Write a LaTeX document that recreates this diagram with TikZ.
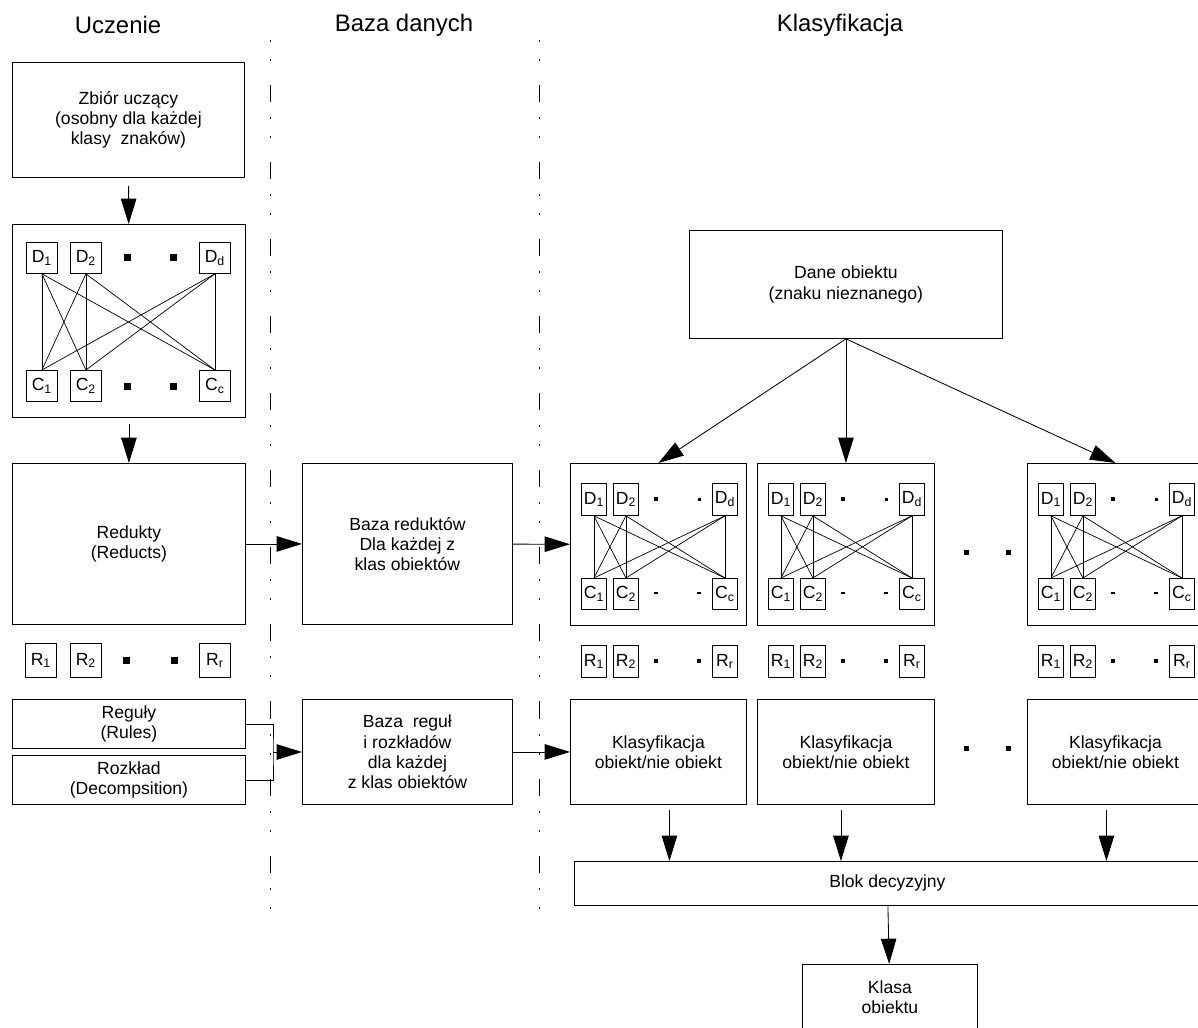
\documentclass[tikz,border=0pt]{standalone}
\usepackage{fontspec}
\setmainfont{Liberation Sans}
\usetikzlibrary{arrows.meta,positioning}

\begin{document}
\begin{tikzpicture}[
		x=0.025cm, y=-0.025cm,
		font=\fontsize{12.5}{14.4}\selectfont,
		sz/.style 2 args={minimum width=#1*0.025cm, minimum height=#2*0.025cm},
		block/.style={draw, line width=0.6pt, anchor=north west, align=center, inner sep=0pt},
		cell/.style={draw, line width=0.6pt, anchor=north west, inner sep=0pt},
		sq/.style={fill, inner sep=0pt, minimum size=#1*0.025cm},
		bar/.style={fill, inner sep=0pt, minimum width=0.1cm, minimum height=0.06cm},
		title/.style={font=\fontsize{17}{20}\selectfont},
		arr/.style={-{Triangle[length=18pt,width=11pt]}, line width=0.6pt},
		sep/.style={line width=0.6pt, dash pattern=on 12.1pt off 10.7pt on 1.4pt off 12.1pt on 1.4pt off 17.1pt, dash phase=22.8pt},
	]
		\useasboundingbox (0,0) rectangle (1198,1027);

		% column titles and separators
		\node[title] (tu) at (118,25) {Uczenie};
		\node[title] (tb) at (404,25) {Baza danych};
		\node[title] (tk) at (840,25) {Klasyfikacja};
		\draw[sep] (270,40) -- (270,910);
		\draw[sep] (539,40) -- (539,910);

		% learning
		\node[block, sz={232}{115}] (zbior) at (12,62) {Zbiór uczący\\(osobny dla każdej\\klasy \ znaków)};
		\node[block, sz={233}{193}] (g0) at (12,224) {};
		\node[cell, sz={31}{31}] (d1) at (26,242) {D\textsubscript{1}};
		\node[cell, sz={31}{31}] (d2) at (70,242) {D\textsubscript{2}};
		\node[cell, sz={31}{31}] (dd) at (199,242) {D\textsubscript{d}};
		\node[cell, sz={31}{31}] (c1) at (26,370) {C\textsubscript{1}};
		\node[cell, sz={31}{31}] (c2) at (70,370) {C\textsubscript{2}};
		\node[cell, sz={31}{31}] (cc) at (199,370) {C\textsubscript{c}};
		\node[sq=7] (dp1) at (127,257) {};
		\node[sq=7] (dp2) at (173,257) {};
		\node[sq=7] (cp1) at (127,386) {};
		\node[sq=7] (cp2) at (173,386) {};
		\foreach \i in {1,2,d}
			\foreach \j in {1,2,c}
				\draw[line width=0.5pt] (d\i.south) -- (c\j.north);

		\node[block, sz={233}{161}] (redukty) at (12,463) {Redukty\\(Reducts)};
		\node[cell, sz={31}{34}] (r1) at (25,643) {R\textsubscript{1}};
		\node[cell, sz={31}{34}] (r2) at (70,643) {R\textsubscript{2}};
		\node[cell, sz={31}{34}] (rr) at (199,643) {R\textsubscript{r}};
		\node[sq=7] (rp1) at (126,660) {};
		\node[sq=7] (rp2) at (174,660) {};
		\node[block, sz={233}{49}] (reguly) at (12,699) {Reguły\\(Rules)};
		\node[block, sz={233}{49}] (rozklad) at (12,755) {Rozkład\\(Decompsition)};
		\coordinate (jn) at (273,752);

		\draw[arr, shorten <=0.2cm] (zbior) -- (g0);
		\draw[arr, shorten <=0.15cm] (g0) -- (redukty);

		% data base
		\node[block, sz={210}{161}] (bazared) at (302,463) {Baza reduktów\\Dla każdej z\\klas obiektów};
		\node[block, sz={210}{105}] (bazaregul) at (302,699) {Baza \ reguł\\i rozkładów\\dla każdej\\z klas obiektów};

		\draw[arr] (redukty) -- (bazared);
		\draw[line width=0.6pt] (reguly.east) -| (jn) |- (rozklad.east);
		\draw[arr] (jn) -- (jn -| bazaregul.west);

		% classification
		\node[block, sz={313}{108}] (dane) at (689,230) {Dane obiektu\\(znaku nieznanego)};
		\node[block, sz={626}{44}] (blok) at (574,861) {Blok decyzyjny};
		\node[block, sz={175}{66}] (klasa) at (802,964) {Klasa\\obiektu};

		\foreach \c/\x/\w in {A/570/176, B/757/177, C/1027/176} {
			\node[block, sz={\w}{162}] (g\c) at (\x,463) {};
			\node[cell, sz={25}{32}] (d1\c) at (\x+11,483) {D\textsubscript{1}};
			\node[cell, sz={25}{32}] (d2\c) at (\x+43,483) {D\textsubscript{2}};
			\node[cell, sz={25}{32}] (dd\c) at (\x+142,483) {D\textsubscript{d}};
			\node[cell, sz={25}{31}] (c1\c) at (\x+11,578) {C\textsubscript{1}};
			\node[cell, sz={25}{31}] (c2\c) at (\x+43,578) {C\textsubscript{2}};
			\node[cell, sz={25}{31}] (cc\c) at (\x+142,578) {C\textsubscript{c}};
			\node[sq=4] (dp1\c) at (\x+86,499) {};
			\node[sq=3] (dp2\c) at (\x+129,499) {};
			\node[bar] (cp1\c) at (\x+86,593) {};
			\node[bar] (cp2\c) at (\x+129,593) {};
			\foreach \i in {1,2,d}
				\foreach \j in {1,2,c}
					\draw[line width=0.5pt] (d\i\c.south) -- (c\j\c.north);
			\node[cell, sz={25}{32}] (r1\c) at (\x+11,645) {R\textsubscript{1}};
			\node[cell, sz={25}{32}] (r2\c) at (\x+43,645) {R\textsubscript{2}};
			\node[cell, sz={25}{32}] (rr\c) at (\x+142,645) {R\textsubscript{r}};
			\node[sq=4] (rp1\c) at (\x+86,661) {};
			\node[sq=4] (rp2\c) at (\x+129,661) {};
			\node[block, sz={\w}{105}] (klas\c) at (\x,699) {Klasyfikacja\\obiekt/nie obiekt};
		}
		\node[sq=5] (gp1) at (966,552) {};
		\node[sq=5] (gp2) at (1008,552) {};
		\node[sq=5] (kp1) at (966,748) {};
		\node[sq=5] (kp2) at (1008,748) {};

		\draw[arr] (bazared) -- (gA);
		\draw[arr] (bazaregul) -- (klasA);
		\draw[arr] (dane.south) -- (gA.north);
		\draw[arr] (dane.south) -- (gB.north);
		\draw[arr] (dane.south) -- (gC.north);
		\foreach \c/\s in {A/0.275cm, B/-0.125cm, C/-0.225cm}
			\draw[arr, shorten <=0.125cm] ([xshift=\s]klas\c.south) -- ([xshift=\s]klas\c.south |- blok.north);
		\draw[arr] (blok) -- (klasa);
	\end{tikzpicture}
\end{document}
